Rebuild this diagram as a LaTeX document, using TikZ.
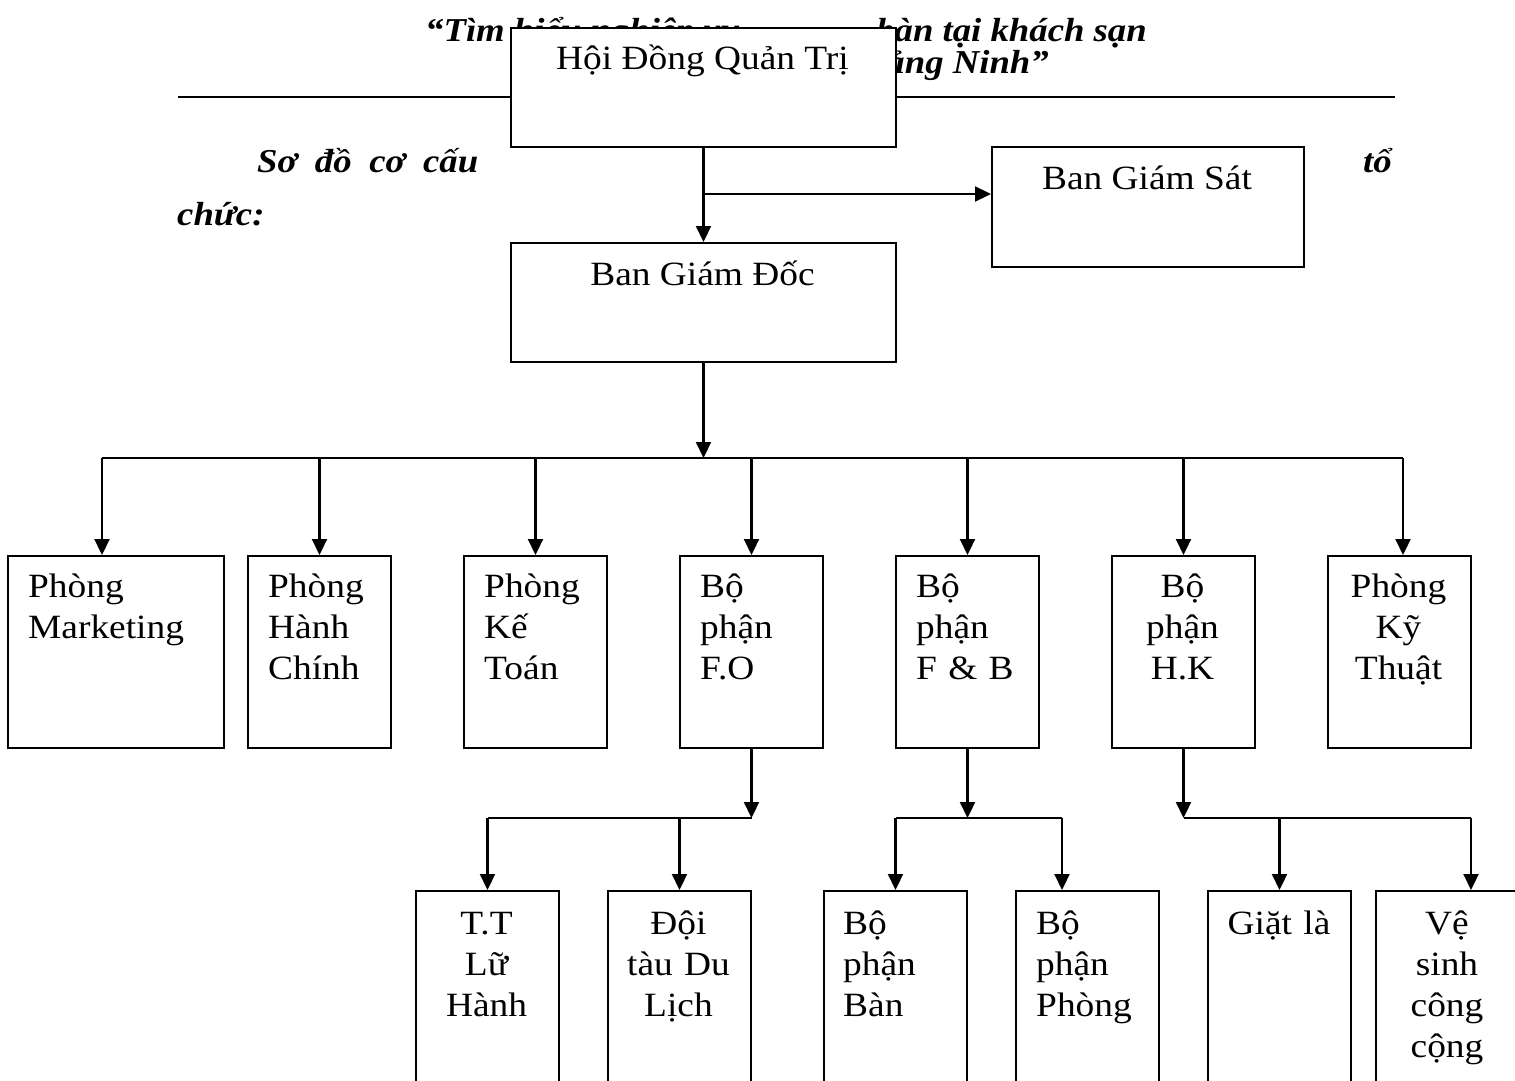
\documentclass[tikz,border=0pt]{standalone}
\usepackage{fontspec}
\setmainfont{Liberation Serif}[FakeStretch=1.1]
\usetikzlibrary{arrows.meta,calc}
\begin{document}
\begin{tikzpicture}[x=1pt,y=-1pt,
  box/.style={draw, line width=2pt, fill=white, inner sep=0pt, anchor=north west},
  lv2/.style={box, minimum width=143pt, minimum height=192pt},
  lv3/.style={box, minimum width=143pt, minimum height=215pt},
  txt/.style={font=\fontsize{34}{41}\selectfont, inner sep=0pt},
  ltxt/.style={txt, anchor=base west, text width=170pt, align=left},
  ctxt/.style={txt, anchor=base, text width=160pt, align=center},
  htxt/.style={font=\fontsize{33.4}{32}\selectfont\bfseries\itshape, inner sep=0pt},
  conn/.style={line width=2.2pt},
  arr/.style={conn, -{Triangle[length=16pt,width=15pt]}}]
\fill[white] (0,0) rectangle (1515,1081);
\useasboundingbox (0,0) rectangle (1515,1081);

% header (partly covered by the top box)
\node[htxt, anchor=base west] (head1) at (425,42) {“Tìm hiểu nghiệp vụ};
\node[htxt, anchor=base east] (head1b) at (1147,42) {bàn tại khách sạn};
\node[htxt, anchor=base east] (head2) at (1049,74) {Quảng Ninh”};
\coordinate (ruleL) at (178,97);
\coordinate (ruleR) at (1395,97);
\draw[line width=2.2pt] (ruleL) -- (ruleR);
\node[htxt, anchor=base west] (so) at (257,172) {\makebox[221pt][s]{Sơ đồ cơ cấu}};
\node[htxt, anchor=base west] (to) at (1363,172) {tổ};
\node[htxt, anchor=base west] (chuc) at (177,225) {chức:};

% top boxes
\node[box, minimum width=385pt, minimum height=119pt] (hdqt) at (510,27) {};
\node[txt, anchor=base] (thdqt) at (702.5,70) {Hội Đồng Quản Trị};
\node[box, minimum width=312pt, minimum height=120pt] (bgs) at (991,146) {};
\node[txt, anchor=base] (tbgs) at (1147,189) {Ban Giám Sát};
\node[box, minimum width=385pt, minimum height=119pt] (bgd) at (510,242) {};
\node[txt, anchor=base] (tbgd) at (702.5,285) {Ban Giám Đốc};

% level 2 boxes
\node[lv2, minimum width=216pt] (mkt) at (7,555) {};
\node[lv2] (hc) at (247,555) {};
\node[lv2] (kt) at (463,555) {};
\node[lv2] (fo) at (679,555) {};
\node[lv2] (fb) at (895,555) {};
\node[lv2] (hk) at (1111,555) {};
\node[lv2] (kyt) at (1327,555) {};
\node[ltxt] (tmkt) at (28,597) {Phòng\\Marketing};
\node[ltxt] (thc) at (268,597) {Phòng\\Hành\\Chính};
\node[ltxt] (tkt) at (484,597) {Phòng\\Kế\\Toán};
\node[ltxt] (tfo) at (700,597) {Bộ\\phận\\F.O};
\node[ltxt] (tfb) at (916,597) {Bộ\\phận\\F \& B};
\node[ctxt] (thk) at (1182.5,597) {Bộ\\phận\\H.K};
\node[ctxt] (tkyt) at (1398.5,597) {Phòng\\Kỹ\\Thuật};

% level 3 boxes
\node[lv3] (tt) at (415,890) {};
\node[lv3] (doi) at (607,890) {};
\node[lv3] (ban) at (823,890) {};
\node[lv3] (phong) at (1015,890) {};
\node[lv3] (giat) at (1207,890) {};
\node[lv3, minimum width=144pt] (vs) at (1375,890) {};
\node[ctxt] (ttt) at (486.5,934) {T.T\\Lữ\\Hành};
\node[ctxt] (tdoi) at (678.5,934) {Đội\\tàu Du\\Lịch};
\node[ltxt] (tban) at (843,934) {Bộ\\phận\\Bàn};
\node[ltxt] (tphong) at (1036,934) {Bộ\\phận\\Phòng};
\node[ctxt] (tgiat) at (1279,934) {Giặt là};
\node[ctxt] (tvs) at (1447,934) {Vệ\\sinh\\công\\cộng};

% connectors, top
\coordinate (j1) at (702.5,194);
\draw[arr] (hdqt.south) -- (bgd.north);
\draw[arr] (j1) -- (j1 -| bgs.west);

% bus level 2
\coordinate (busL) at (102,458);
\coordinate (busR) at (1403,458);
\draw[arr] (bgd.south) -- (bgd.south |- busL);
\draw[conn] (busL) -- (busR);
\draw[arr] (busL) -- (busL |- mkt.north);
\draw[arr] (hc.north |- busL) -- (hc.north);
\draw[arr] (kt.north |- busL) -- (kt.north);
\draw[arr] (fo.north |- busL) -- (fo.north);
\draw[arr] (fb.north |- busL) -- (fb.north);
\draw[arr] (hk.north |- busL) -- (hk.north);
\draw[arr] (busR) -- (busR |- kyt.north);

% level 3 buses
\coordinate (b2) at (0,818);
\coordinate (pDrop) at (1062,818);
\coordinate (vDrop) at (1471,818);
\draw[arr] (fo.south) -- (fo.south |- b2);
\draw[conn] (tt.north |- b2) -- (fo.south |- b2);
\draw[arr] (tt.north |- b2) -- (tt.north);
\draw[arr] (doi.north |- b2) -- (doi.north);

\draw[arr] (fb.south) -- (fb.south |- b2);
\draw[conn] (ban.north |- b2) -- (pDrop);
\draw[arr] (ban.north |- b2) -- (ban.north);
\draw[arr] (pDrop) -- (pDrop |- phong.north);

\draw[arr] (hk.south) -- (hk.south |- b2);
\draw[conn] (hk.south |- b2) -- (vDrop);
\draw[arr] (giat.north |- b2) -- (giat.north);
\draw[arr] (vDrop) -- (vDrop |- vs.north);
\end{tikzpicture}
\end{document}
